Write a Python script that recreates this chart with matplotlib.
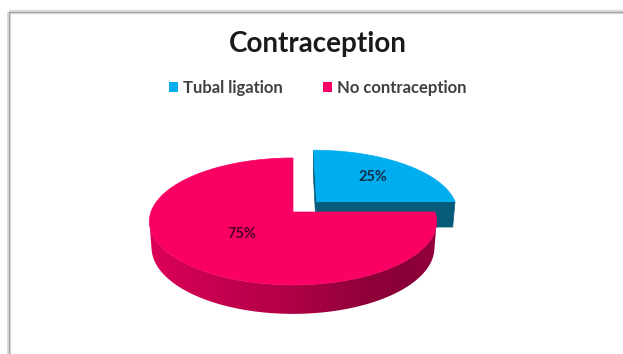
import numpy as np
import matplotlib
matplotlib.use("Agg")
import matplotlib.pyplot as plt
from matplotlib.patches import Polygon, Patch

# ---- data ----
title = "Contraception"
categories = ["Tubal ligation", "No contraception"]
shares = [25, 75]
label_texts = ["25%", "75%"]
exploded = [True, False]

# ---- styling ----
top_colors = ["#00AEEF", "#FA0064"]
side_colors = ["#075A78", "#FA0064"]
label_colors = ["#0E2E48", "#4A0020"]
label_radius = [0.63, 0.48]

W, H = 623, 354
fig = plt.figure(figsize=(W / 100, H / 100), dpi=100)
ax = fig.add_axes([0, 0, 1, 1])
ax.set_xlim(0, W)
ax.set_ylim(H, 0)
ax.axis("off")

# chart frame (top and left edges)
ax.plot([9, 9], [H, 12], color="#dcdcdc", lw=3.0, solid_capstyle="butt")
ax.plot([9, W], [12, 12], color="#dcdcdc", lw=3.0, solid_capstyle="butt")
ax.plot([8.5, 8.5], [H, 11.5], color="#a8a8a8", lw=1.0)
ax.plot([8.5, W], [11.5, 11.5], color="#a8a8a8", lw=1.0)

# ---- perspective projection of a 3D pie ----
CX, CY, S = 293.0, 212.0, 142.0
SIN_P, COS_P = 0.437, 0.899
DIST = 6.04
THICK = 0.205
EXPLODE = 0.24


def proj(x, y, z):
    d = y * COS_P - z * SIN_P
    f = DIST / (DIST + d)
    return CX + S * f * x, CY - S * f * (y * SIN_P + z * COS_P)


# slice angle spans, clockwise from 12 o'clock
spans = []
start = 90.0
for s in shares:
    end = start - 360.0 * s / sum(shares)
    spans.append((start, end))
    start = end


def slice_offset(i):
    a0, a1 = spans[i]
    mid = np.radians((a0 + a1) / 2)
    if exploded[i]:
        return EXPLODE * np.cos(mid), EXPLODE * np.sin(mid)
    return 0.0, 0.0


def wall_gradient(poly, base, zorder):
    """Fill a wall polygon with a left-to-right shading gradient."""
    xs = np.array([p[0] for p in poly])
    ys = np.array([p[1] for p in poly])
    x0, x1 = xs.min(), xs.max()
    y0, y1 = ys.min(), ys.max()
    u = np.linspace(0, 1, 300)
    k = np.interp(u, [0.0, 0.15, 0.45, 0.75, 0.9, 1.0],
                  [0.88, 0.82, 0.72, 0.58, 0.55, 0.60])
    rgb = np.array(matplotlib.colors.to_rgb(base))
    img = np.clip(k[None, :, None] * rgb[None, None, :], 0, 1)
    img = np.repeat(img, 2, axis=0)
    patch = Polygon(poly, closed=True, fc="none", ec="none")
    ax.add_patch(patch)
    im = ax.imshow(img, extent=(x0, x1, y1, y0), aspect="auto",
                   interpolation="bilinear", zorder=zorder)
    im.set_clip_path(patch)
    ax.set_xlim(0, W)
    ax.set_ylim(H, 0)


def draw_slice(i, zorder):
    a0, a1 = spans[i]
    ox, oy = slice_offset(i)
    th = np.radians(np.linspace(a0, a1, 400))
    mid = np.radians((a0 + a1) / 2)
    # radial cut faces that face the viewer
    for a in (a0, a1):
        ar = np.radians(a)
        ex, ey = np.cos(ar), np.sin(ar)
        n = np.array([-ey, ex])
        if np.dot(n, [np.cos(mid), np.sin(mid)]) > 0:
            n = -n
        cam = np.array([0.0, -DIST * COS_P]) - np.array([ox, oy])
        if np.dot(n, cam) <= 1e-6:
            continue
        pts = [proj(ox, oy, 0), proj(ox + ex, oy + ey, 0),
               proj(ox + ex, oy + ey, -THICK), proj(ox, oy, -THICK)]
        ax.add_patch(Polygon(pts, closed=True, fc=side_colors[i],
                             ec=side_colors[i], lw=0.5, zorder=zorder))
    # outer wall: the part whose normal faces the camera
    vis = np.sin(th) < -1.0 / (DIST * COS_P)
    if vis.any():
        tv = th[vis]
        upper = [proj(ox + np.cos(t), oy + np.sin(t), 0) for t in tv]
        lower = [proj(ox + np.cos(t), oy + np.sin(t), -THICK) for t in tv[::-1]]
        wall_gradient(upper + lower, side_colors[i], zorder + 0.1)
    # top face
    top = [proj(ox, oy, 0)] + [proj(ox + np.cos(t), oy + np.sin(t), 0) for t in th]
    ax.add_patch(Polygon(top, closed=True, fc=top_colors[i], ec=top_colors[i],
                         lw=0.5, zorder=zorder + 0.2))
    # value label on the top face
    r = label_radius[i]
    lx, ly = proj(ox + r * np.cos(mid), oy + r * np.sin(mid), 0)
    ax.text(lx, ly, label_texts[i], ha="center", va="center", fontsize=10.5,
            fontweight="bold", family="Lato", color=label_colors[i],
            zorder=zorder + 0.3)


# back (exploded) slice first, then the front one
draw_slice(0, 2)
draw_slice(1, 3)

# title
ax.text(318, 44, title, ha="center", va="center", fontsize=20,
        fontweight="bold", family="Lato", color="#1a1a1a")

# legend
handles = [Patch(facecolor=top_colors[i], edgecolor="none", label=categories[i])
           for i in range(len(categories))]
leg = fig.legend(handles=handles, loc="center", bbox_to_anchor=(318 / W, 1 - 88 / H),
                 ncol=2, frameon=False, handlelength=0.55, handleheight=0.55,
                 handletextpad=0.3, columnspacing=2.4,
                 prop={"family": "Lato", "weight": "bold", "size": 12})
for t in leg.get_texts():
    t.set_color("#404040")

fig.savefig("out.png", dpi=100, facecolor="white")
